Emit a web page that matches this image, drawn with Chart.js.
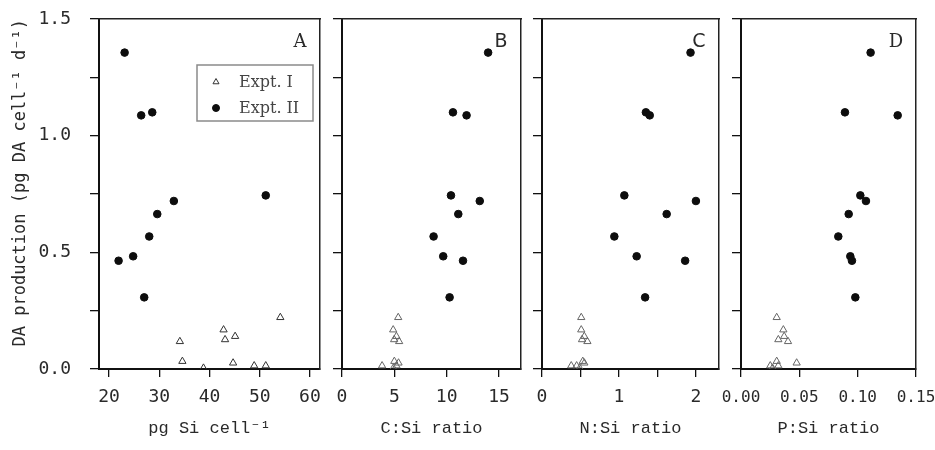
<!DOCTYPE html>
<html><head><meta charset="utf-8">
<script src="https://cdn.jsdelivr.net/npm/chart.js@4/dist/chart.umd.min.js"></script>
<style>
html,body{margin:0;padding:0;background:#fff;}
#wrap{position:relative;width:935px;height:450px;overflow:hidden;background:#fff;}
.p{position:absolute;top:0;height:450px;}
</style></head><body>
<div id="wrap">
<div class="p" style="left:0;width:330px"><canvas id="ca"></canvas></div>
<div class="p" style="left:322px;width:208px"><canvas id="cb"></canvas></div>
<div class="p" style="left:522px;width:208px"><canvas id="cc"></canvas></div>
<div class="p" style="left:700px;width:235px"><canvas id="cd"></canvas></div>
</div>
<script>
// ---- data ----
const seriesNames = ['Expt. I', 'Expt. II'];
const yTitle = 'DA production (pg DA cell\u207B\u00B9 d\u207B\u00B9)';
const yTickValues = [0, 0.25, 0.5, 0.75, 1.0, 1.25, 1.5];

// DA production, shared across the four panels
const daExptI  = [0.221, 0.168, 0.140, 0.126, 0.118, 0.033, 0.026, 0.014, 0.014, 0.004];
const daExptII = [1.356, 1.100, 1.087, 0.744, 0.720, 0.664, 0.568, 0.483, 0.464, 0.307];

// panel A: pg Si cell-1
const siCellI  = [54.1, 42.8, 45.1, 43.1, 34.1, 34.6, 44.7, 48.9, 51.2, 38.8];
const siCellII = [23.1, 28.6, 26.4, 51.2, 32.9, 29.6, 28.0, 24.8, 21.9, 27.0];
// panel B: C:Si ratio
const cSiI  = [5.37, 4.89, 5.20, 4.98, 5.46, 5.00, 5.40, 3.83, 5.20, 4.90];
const cSiII = [13.96, 10.6, 11.9, 10.41, 13.16, 11.11, 8.75, 9.67, 11.56, 10.28];
// panel C: N:Si ratio
const nSiI  = [0.51, 0.51, 0.55, 0.52, 0.59, 0.53, 0.55, 0.38, 0.45, 0.49];
const nSiII = [1.93, 1.35, 1.40, 1.07, 2.00, 1.62, 0.94, 1.23, 1.86, 1.34];
// panel D: P:Si ratio
const pSiI  = [0.0306, 0.0363, 0.0370, 0.0320, 0.0403, 0.0306, 0.0477, 0.0251, 0.0320, 0.0270];
const pSiII = [0.1111, 0.0891, 0.1343, 0.1023, 0.1071, 0.0923, 0.0834, 0.0937, 0.0951, 0.0980];

const xTicksA = [20, 30, 40, 50, 60];
const xTicksB = [0, 5, 10, 15];
const xTicksC = [0, 0.5, 1, 1.5, 2];
const xTicksD = [0, 0.05, 0.10, 0.15];

const xTitles = ['pg Si cell\u207B\u00B9', 'C:Si ratio', 'N:Si ratio', 'P:Si ratio'];
const panelLetters = ['A', 'B', 'C', 'D'];

// ---- drawing ----
const pts = (xs, ys) => xs.map((x, i) => ({x: x, y: ys[i]}));
const MONO = "'DejaVu Sans Mono', monospace";
const TXT = '#2a2a2a';

const letterPlugin = {
  id: 'panelLetter',
  afterDraw(chart, args, opts) {
    const {ctx, chartArea} = chart;
    ctx.save();
    ctx.font = opts.font;
    ctx.fillStyle = TXT;
    ctx.textAlign = 'center';
    ctx.textBaseline = 'middle';
    ctx.fillText(opts.text, chartArea.right - 20, chartArea.top + 23);
    ctx.restore();
  }
};

const boxLegendPlugin = {
  id: 'boxLegend',
  afterDraw(chart, args, opts) {
    if (!opts.show) return;
    const {ctx, chartArea} = chart;
    const x0 = chartArea.left + 98, y0 = chartArea.top + 46, w = 116, h = 56;
    ctx.save();
    ctx.strokeStyle = '#8a8a8a';
    ctx.lineWidth = 1.5;
    ctx.strokeRect(x0, y0, w, h);
    ctx.font = "16px 'DejaVu Serif', serif";
    ctx.textBaseline = 'middle';
    ctx.textAlign = 'left';
    chart.data.datasets.forEach((ds, i) => {
      const cy = y0 + 17 + i * 26;
      ctx.fillStyle = ds.backgroundColor;
      ctx.strokeStyle = ds.borderColor;
      ctx.lineWidth = 1;
      Chart.helpers.drawPoint(ctx, {pointStyle: ds.pointStyle, radius: 3.5, borderWidth: 1}, x0 + 19, cy);
      ctx.fillStyle = '#444';
      ctx.fillText(ds.label, x0 + 42, cy + 1);
    });
    ctx.restore();
  }
};

function makePanel(id, cfg) {
  const ctx = document.getElementById(id);
  const gridOpts = {display: true, drawOnChartArea: false, drawTicks: true, color: '#111', lineWidth: 1.3};
  return new Chart(ctx, {
    type: 'scatter',
    data: {
      datasets: [
        {label: seriesNames[0], data: pts(cfg.xI, daExptI), pointStyle: 'triangle', pointRadius: 4.2,
         backgroundColor: 'rgba(255,255,255,0)', borderColor: cfg.triColor, borderWidth: 1, order: 2},
        {label: seriesNames[1], data: pts(cfg.xII, daExptII), pointStyle: 'circle', pointRadius: 3.8,
         backgroundColor: '#0d0d0d', borderColor: '#0d0d0d', borderWidth: 1, order: 1}
      ]
    },
    options: {
      responsive: true, maintainAspectRatio: false, animation: false,
      layout: {padding: {left: 0, right: cfg.padRight, top: 19, bottom: 0}},
      plugins: {
        legend: {display: false}, tooltip: {enabled: false},
        panelLetter: {text: cfg.letter, font: cfg.letterFont},
        boxLegend: {show: !!cfg.legend}
      },
      scales: {
        x: {
          type: 'linear', position: 'bottom', min: cfg.xmin, max: cfg.xmax,
          afterBuildTicks: s => { s.ticks = cfg.xTicks.map(v => ({value: v})); },
          afterFit: s => { s.height = 81; s.paddingLeft = 0; s.paddingRight = 0; },
          ticks: {autoSkip: false, maxRotation: 0, padding: cfg.xTickPad, color: TXT,
                  font: {family: MONO, size: cfg.xTickSize}, callback: cfg.xLabel},
          grid: Object.assign({tickLength: 8}, gridOpts),
          border: {display: true, color: '#111', width: 2},
          title: {display: true, text: cfg.xTitle, color: TXT,
                  font: {family: "'Liberation Mono', monospace", size: 17}, padding: {top: 0, bottom: 11}}
        },
        y: {
          type: 'linear', position: 'left', min: 0, max: 1.5,
          afterBuildTicks: s => { s.ticks = yTickValues.map(v => ({value: v})); },
          afterFit: s => { s.width = cfg.yWidth; s.paddingTop = 0; s.paddingBottom = 0; },
          ticks: {autoSkip: false, padding: 19, color: TXT, font: {family: MONO, size: 18},
                  callback: v => cfg.yLabels && Math.abs(v * 2 - Math.round(v * 2)) < 1e-9 ? v.toFixed(1) : ''},
          grid: Object.assign({tickLength: 9}, gridOpts),
          border: {display: true, color: '#111', width: 2},
          title: {display: !!cfg.yLabels, text: yTitle, color: TXT, align: 'end',
                  font: {family: MONO, size: 17}, padding: {top: 10, bottom: 0}}
        },
        x2: {
          type: 'linear', position: 'top', min: cfg.xmin, max: cfg.xmax,
          ticks: {display: false}, grid: {display: false},
          border: {display: true, color: '#222', width: 1.5},
          afterFit: s => { s.height = 0; }
        },
        y2: {
          type: 'linear', position: 'right', min: 0, max: 1.5,
          ticks: {display: false}, grid: {display: false},
          border: {display: true, color: '#222', width: 1.5},
          afterFit: s => { s.width = 0; }
        }
      }
    },
    plugins: [letterPlugin, boxLegendPlugin]
  });
}

makePanel('ca', {xI: siCellI, xII: siCellII, xmin: 18, xmax: 62, xTicks: xTicksA, xTickSize: 18, xTickPad: 10,
  xLabel: v => String(v), xTitle: xTitles[0], yWidth: 99, padRight: 10, yLabels: true,
  letter: panelLetters[0], letterFont: "18px 'DejaVu Serif', serif", legend: true, triColor: '#333'});
makePanel('cb', {xI: cSiI, xII: cSiII, xmin: 0, xmax: 17.1, xTicks: xTicksB, xTickSize: 18, xTickPad: 10,
  xLabel: v => String(v), xTitle: xTitles[1], yWidth: 20, padRight: 9, yLabels: false,
  letter: panelLetters[1], letterFont: "19px 'DejaVu Sans', sans-serif", triColor: '#666'});
makePanel('cc', {xI: nSiI, xII: nSiII, xmin: 0, xmax: 2.3, xTicks: xTicksC, xTickSize: 18, xTickPad: 10,
  xLabel: v => Number.isInteger(v) ? String(v) : '', xTitle: xTitles[2], yWidth: 20, padRight: 11, yLabels: false,
  letter: panelLetters[2], letterFont: "19px 'DejaVu Sans', sans-serif", triColor: '#666'});
makePanel('cd', {xI: pSiI, xII: pSiII, xmin: 0, xmax: 0.15, xTicks: xTicksD, xTickSize: 16, xTickPad: 11,
  xLabel: v => v.toFixed(2), xTitle: xTitles[3], yWidth: 41, padRight: 19, yLabels: false,
  letter: panelLetters[3], letterFont: "18px 'DejaVu Serif', serif", triColor: '#666'});
</script>
</body></html>
